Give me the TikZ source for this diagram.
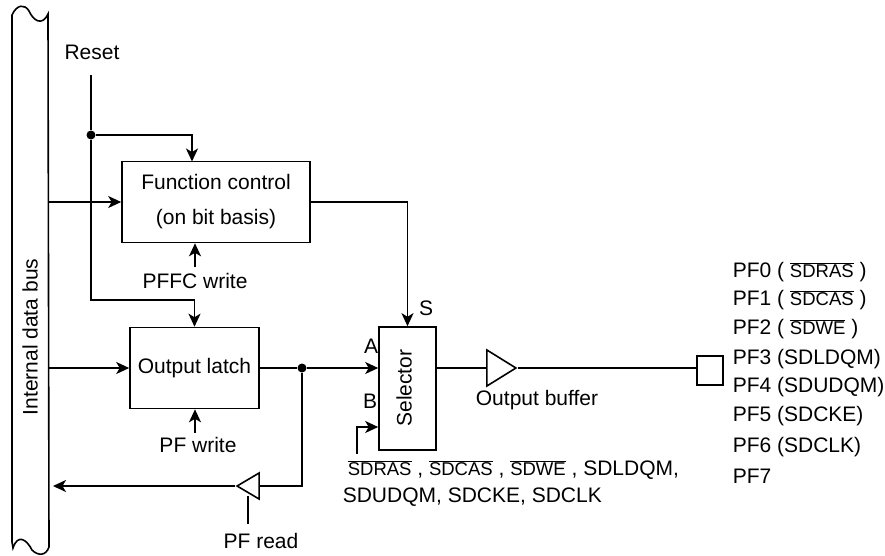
\documentclass[tikz,border=0pt]{standalone}
\usepackage{fontspec}
\setmainfont{Liberation Sans}
\usepackage{xcolor}
\usetikzlibrary{arrows.meta,shapes.geometric}
\newcommand{\sdbar}[1]{$\overline{\hbox{\fontsize{18.5}{20}\selectfont #1}}$}

\begin{document}
\begin{tikzpicture}[
  x=1pt,y=-1pt,
  line width=1.6pt,
  every node/.style={font=\fontsize{21}{26}\selectfont,inner sep=0pt},
  block/.style={draw,rectangle,minimum width=#1,minimum height=81pt},
  gate/.style={draw,isosceles triangle,isosceles triangle stretches,anchor=apex},
  dot/.style={circle,fill=black,minimum size=9pt},
  wire/.style={-{Stealth[length=13pt,width=12pt,inset=3.5pt]}}
]
\useasboundingbox (0,0) rectangle (885,555);
% bus
\draw (12,542) -- (12,15) .. controls (17,4) and (25,4) .. (29,11)
  .. controls (33,20) and (42,27) .. (48,14) -- (49,547)
  .. controls (46,556) and (38,556) .. (32,550)
  .. controls (27,540) and (18,533) .. (13,548) -- cycle;
\node[rotate=90] (bustext) at (30,337) {Internal data bus};

\node[block=188pt,align=center,font=\fontsize{21}{35}\selectfont] (fc) at (216,202)
  {Function control\\(on bit basis)};
\node[block=129pt] (latch) at (194.5,368) {Output latch};
\node[draw,rectangle,minimum width=57pt,minimum height=123pt] (sel) at (407.5,388.5) {};
\node[rotate=90] (seltext) at (404,388) {Selector};
\node[gate,minimum width=36pt,minimum height=29pt] (obuf) at (518,368) {};
\node[gate,minimum width=26pt,minimum height=22pt,shape border rotate=180] (rbuf) at (235,486) {};
\node[draw,rectangle,minimum width=26pt,minimum height=29pt] (pad) at (710,370.5) {};

\node[dot] (rstdot) at (91,135) {};
\node[dot] (outdot) at (302,368) {};
\coordinate (rsttop) at (91,75);
\coordinate (rstbend) at (91,300);
\coordinate (fcin) at (192,161.5);
\coordinate (busfc) at (48,202);
\coordinate (buslatch) at (49,368);
\coordinate (busread) at (53,486);
\coordinate (fcwr) at (195,267);
\coordinate (pfwr) at (195,433);
\coordinate (rdstem) at (248,524);
\coordinate (sdin) at (357,454);

\node (reset) at (92,52) {Reset};
\node (pffc) at (195,281) {PFFC write};
\node (pfw) at (198,445) {PF write};
\node (pfr) at (261,541) {PF read};
\node (lbla) at (371,346) {A};
\node (lblb) at (370,401) {B};
\node (lbls) at (426,308) {S};
\node (obuftext) at (537,400) {Output buffer};
\node[anchor=west] (sigone) at (347,470) {\sdbar{SDRAS} , \sdbar{SDCAS} , \sdbar{SDWE} , SDLDQM,};
\node[anchor=west] (sigtwo) at (342,497) {SDUDQM, SDCKE, SDCLK};

\node[anchor=west] (pf0) at (732,272) {PF0 ( \sdbar{SDRAS} )};
\node[anchor=west] (pf1) at (732,300) {PF1 ( \sdbar{SDCAS} )};
\node[anchor=west] (pf2) at (732,329) {PF2 ( \sdbar{SDWE} )};
\node[anchor=west] (pf3) at (732,359) {PF3 (SDLDQM)};
\node[anchor=west] (pf4) at (732,387) {PF4 (SDUDQM)};
\node[anchor=west] (pf5) at (732,416) {PF5 (SDCKE)};
\node[anchor=west] (pf6) at (732,447) {PF6 (SDCLK)};
\node[anchor=west] (pf7) at (732,476) {PF7};

\draw (rsttop) -- (rstdot);
\draw[wire] (rstdot) -- (rstbend) -| (latch.north);
\draw[wire] (rstdot) -| (fcin);
\draw[wire] (busfc) -- (fc.west);
\draw[wire] (buslatch) -- (latch.west);
\draw[wire] (fcwr) -- (fc.south -| fcwr);
\draw[wire] (pfwr) -- (latch.south -| pfwr);
\draw[wire] (fc.east) -| (sel.north);
\draw (latch.east) -- (outdot);
\draw[wire] (outdot) -- (sel.west |- outdot);
\draw (outdot) |- (rbuf.east);
\draw[wire] (rbuf.apex) -- (busread);
\draw (rdstem) -- (rdstem |- rbuf.south);
\draw[wire] (sdin) |- (sel.west |- 0,427);
\draw (sel.east |- obuf) -- (obuf.west);
\draw (obuf.apex) -- (pad.west |- obuf);
\end{tikzpicture}
\end{document}
